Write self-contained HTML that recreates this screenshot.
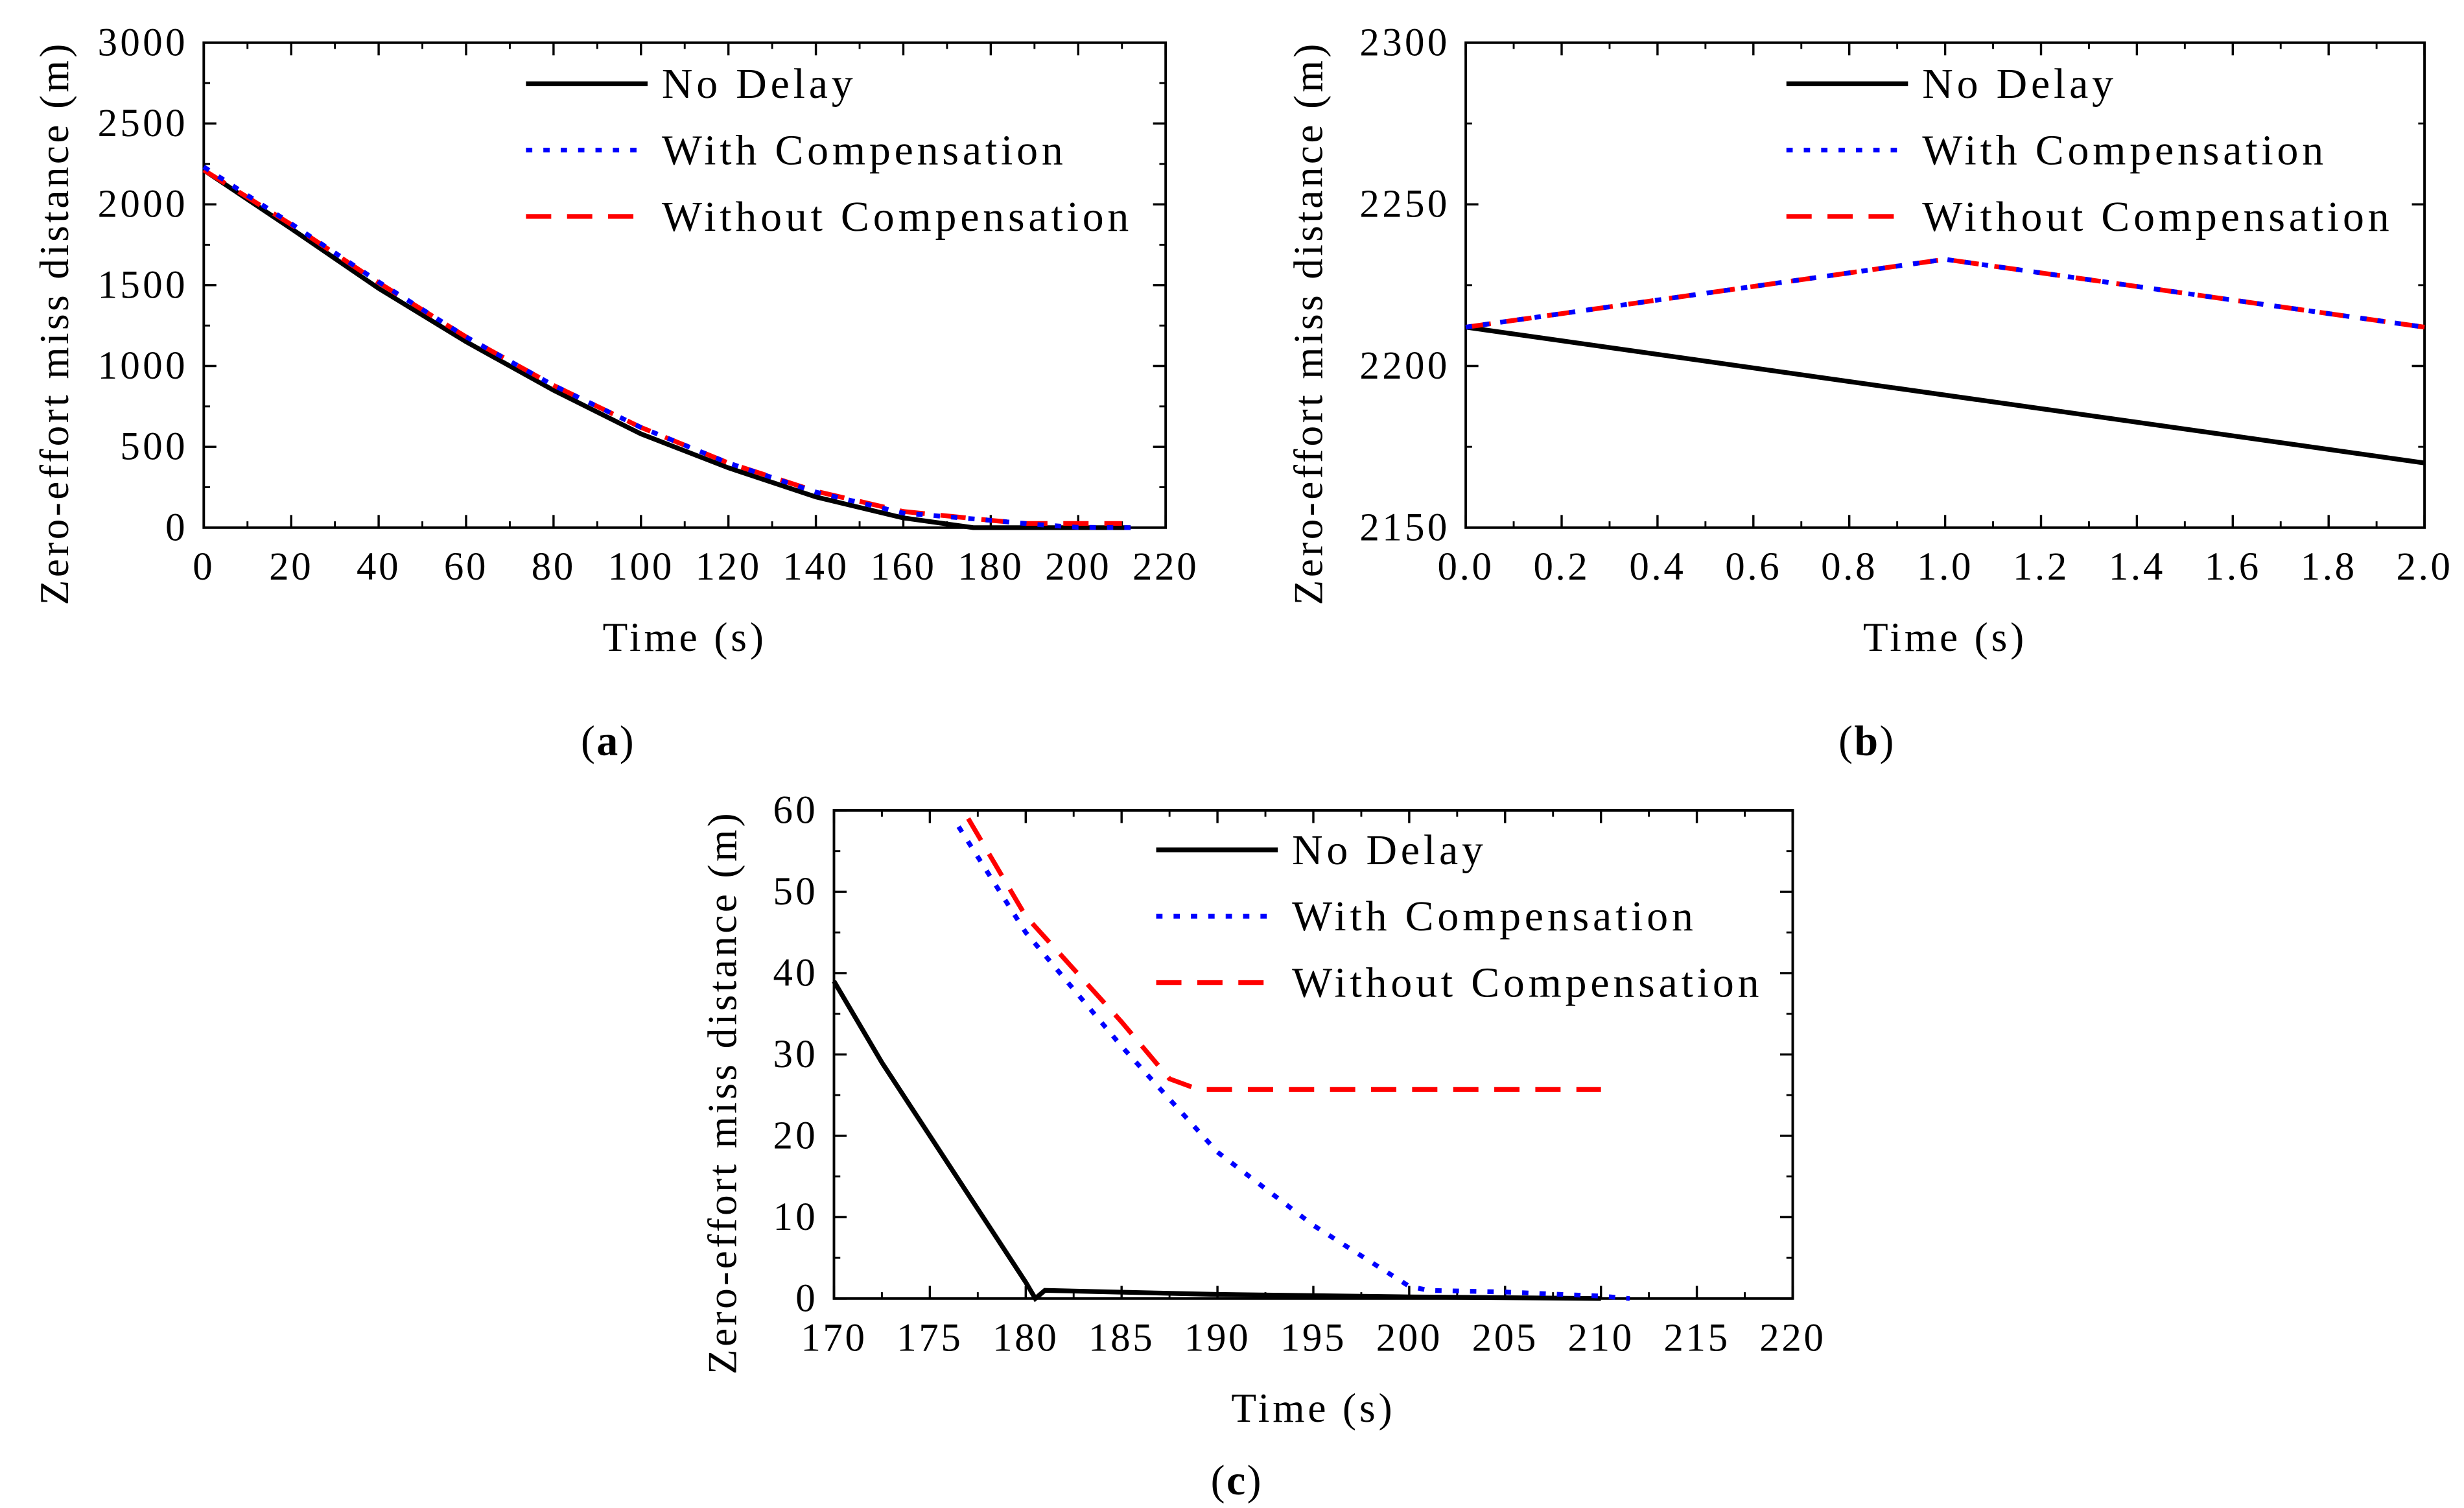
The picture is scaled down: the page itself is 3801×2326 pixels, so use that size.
<!DOCTYPE html>
<html><head><meta charset="utf-8"><style>
html,body{margin:0;padding:0;background:#fff}
svg{display:block}
text{font-family:"Liberation Serif",serif;fill:#000}
</style></head><body>
<svg id="fig" xmlns="http://www.w3.org/2000/svg" width="3801" height="2326" viewBox="0 0 1560 954.6">
<rect width="1560" height="954.6" fill="#fff"/>
</svg>
<script>
// Panel (a) data
const aTime=[0,20,40,60,80,100,120,140,160,176,212];
const aNoDelay=[2212,1850,1480,1150,850,580,370,190,60,0,0];
const aWithTime=[0,20,40,60,80,100,120,140,160,180,190,200,212];
const aWith=[2232,1880,1520,1180,880,620,400,220,90,45,20,2,0];
const aWithoutTime=[0,20,40,60,80,100,120,140,160,180,188,210];
const aWithout=[2212,1875,1515,1180,880,620,400,225,100,45,26,26];
// Panel (b) data
const bTime=[0,2];
const bNoDelay=[2212,2170];
const bCompTime=[0,1,2];
const bWith=[2212,2233,2212];
const bWithout=[2212,2233,2212];
// Panel (c) data
const cNoTime=[170,172.5,175,177.5,180,180.5,181,190,200,210];
const cNoDelay=[39,29,20,11,2,0,1,0.5,0.2,0];
const cWithTime=[176.5,180,185,190,195,200,201,205,210,211.5];
const cWith=[58,45,31,18,9,1.5,1,0.8,0.3,0];
const cWithoutTime=[177,180,185,187.5,189,210];
const cWithout=[59,47,34,27,25.7,25.7];
// tick labels
const aXTicks=[0,20,40,60,80,100,120,140,160,180,200,220];
const aYTicks=[0,500,1000,1500,2000,2500,3000];
const bXTicks=[0,0.2,0.4,0.6,0.8,1.0,1.2,1.4,1.6,1.8,2.0];
const bYTicks=[2150,2200,2250,2300];
const cXTicks=[170,175,180,185,190,195,200,205,210,215,220];
const cYTicks=[0,10,20,30,40,50,60];

const NS="http://www.w3.org/2000/svg";
const svg=document.getElementById('fig');
function el(tag,attrs,parent){const e=document.createElementNS(NS,tag);for(const k in attrs)e.setAttribute(k,attrs[k]);(parent||svg).appendChild(e);return e;}

function panel(cfg){
  const g=el('g',{});
  
  
  const {x0,x1,y0,y1,xmin,xmax,ymin,ymax}=cfg;
  const sx=v=>x0+(v-xmin)/(xmax-xmin)*(x1-x0);
  const sy=v=>y1-(v-ymin)/(ymax-ymin)*(y1-y0);
  const frame=el('rect',{x:x0,y:y0,width:x1-x0,height:y1-y0,fill:'none',stroke:'#000','stroke-width':1.6},g);
  
  
  cfg.xt.forEach((v,i)=>{
    const x=sx(v);
    el('line',{x1:x,x2:x,y1:y1,y2:y1-8,stroke:'#000','stroke-width':1.4},g);
    el('line',{x1:x,x2:x,y1:y0,y2:y0+8,stroke:'#000','stroke-width':1.4},g);
    if(i<cfg.xt.length-1){const xm=sx((v+cfg.xt[i+1])/2);
      el('line',{x1:xm,x2:xm,y1:y1,y2:y1-4,stroke:'#000','stroke-width':1.2},g);
      el('line',{x1:xm,x2:xm,y1:y0,y2:y0+4,stroke:'#000','stroke-width':1.2},g);}
    const t=el('text',{x:x,y:y1+33,'font-size':25,'text-anchor':'middle','letter-spacing':1.5},g);
    t.textContent=cfg.xf(v);
    
    
  });
  cfg.yt.forEach((v,i)=>{
    const y=sy(v);
    el('line',{x1:x0,x2:x0+8,y1:y,y2:y,stroke:'#000','stroke-width':1.4},g);
    el('line',{x1:x1,x2:x1-8,y1:y,y2:y,stroke:'#000','stroke-width':1.4},g);
    if(i<cfg.yt.length-1){const ym=sy((v+cfg.yt[i+1])/2);
      el('line',{x1:x0,x2:x0+4,y1:ym,y2:ym,stroke:'#000','stroke-width':1.2},g);
      el('line',{x1:x1,x2:x1-4,y1:ym,y2:ym,stroke:'#000','stroke-width':1.2},g);}
    const t=el('text',{x:x0-10,y:y+8,'font-size':25,'text-anchor':'end','letter-spacing':1.8},g);
    t.textContent=String(v);
    
    
  });
  const xt=el('text',{x:(x0+x1)/2,y:y1+78,'font-size':26,'text-anchor':'middle','letter-spacing':2},g);
  xt.textContent='Time (s)';
  
  
  const yx=cfg.ytx, yy=(y0+y1)/2+24;
  const yt=el('text',{x:yx,y:yy,'font-size':26,'text-anchor':'middle','letter-spacing':1.8,transform:`rotate(-90 ${yx} ${yy})`},g);
  yt.textContent='Zero-effort miss distance (m)';
  
  
  const styles={nd:{stroke:'#000',dash:''},wc:{stroke:'#0000ff',dash:'4 7'},wo:{stroke:'#ff0000',dash:'16 10'}};
  cfg.series.forEach(s=>{
    const st=styles[s.k];
    const d=s.t.map((t,i)=>(i?'L':'M')+sx(t).toFixed(2)+' '+sy(s.v[i]).toFixed(2)).join(' ');
    const p=el('path',{d:d,fill:'none',stroke:st.stroke,'stroke-width':3,'stroke-dasharray':st.dash},g);
    
    
  });
  const labels=[['nd','No Delay'],['wc','With Compensation'],['wo','Without Compensation']];
  labels.forEach((l,i)=>{
    const y=cfg.ly+42*i, st=styles[l[0]];
    const lg=el('g',{},g);
    
    
    el('line',{x1:cfg.lx,x2:cfg.lx+77,y1:y,y2:y,stroke:st.stroke,'stroke-width':3,'stroke-dasharray':st.dash},lg);
    const t=el('text',{x:cfg.lx+86,y:y+9,'font-size':27,'letter-spacing':2.4},lg);
    t.textContent=l[1];
  });
  const cap=el('text',{x:cfg.capx,y:cfg.capy,'font-size':27,'text-anchor':'middle','letter-spacing':1},g);
  cap.innerHTML='(<tspan font-weight="bold">'+cfg.id+'</tspan>)';
  
  
}
panel({id:'a',x0:129,x1:738,y0:27,y1:334,xmin:0,xmax:220,ymin:0,ymax:3000,xt:aXTicks,yt:aYTicks,xf:v=>String(v),ytx:43,lx:333,ly:53,capx:385,capy:478,
  series:[{k:'nd',name:'no-delay',t:aTime,v:aNoDelay},{k:'wo',name:'without-compensation',t:aWithoutTime,v:aWithout},{k:'wc',name:'with-compensation',t:aWithTime,v:aWith}]});
panel({id:'b',x0:928,x1:1535,y0:27,y1:334,xmin:0,xmax:2,ymin:2150,ymax:2300,xt:bXTicks,yt:bYTicks,xf:v=>v.toFixed(1),ytx:837,lx:1131,ly:53,capx:1182,capy:478,
  series:[{k:'nd',name:'no-delay',t:bTime,v:bNoDelay},{k:'wo',name:'without-compensation',t:bCompTime,v:bWithout},{k:'wc',name:'with-compensation',t:bCompTime,v:bWith}]});
panel({id:'c',x0:528,x1:1135,y0:513,y1:822,xmin:170,xmax:220,ymin:0,ymax:60,xt:cXTicks,yt:cYTicks,xf:v=>String(v),ytx:466,lx:732,ly:538,capx:783,capy:946,
  series:[{k:'nd',name:'no-delay',t:cNoTime,v:cNoDelay},{k:'wo',name:'without-compensation',t:cWithoutTime,v:cWithout},{k:'wc',name:'with-compensation',t:cWithTime,v:cWith}]});
</script>
</body></html>
